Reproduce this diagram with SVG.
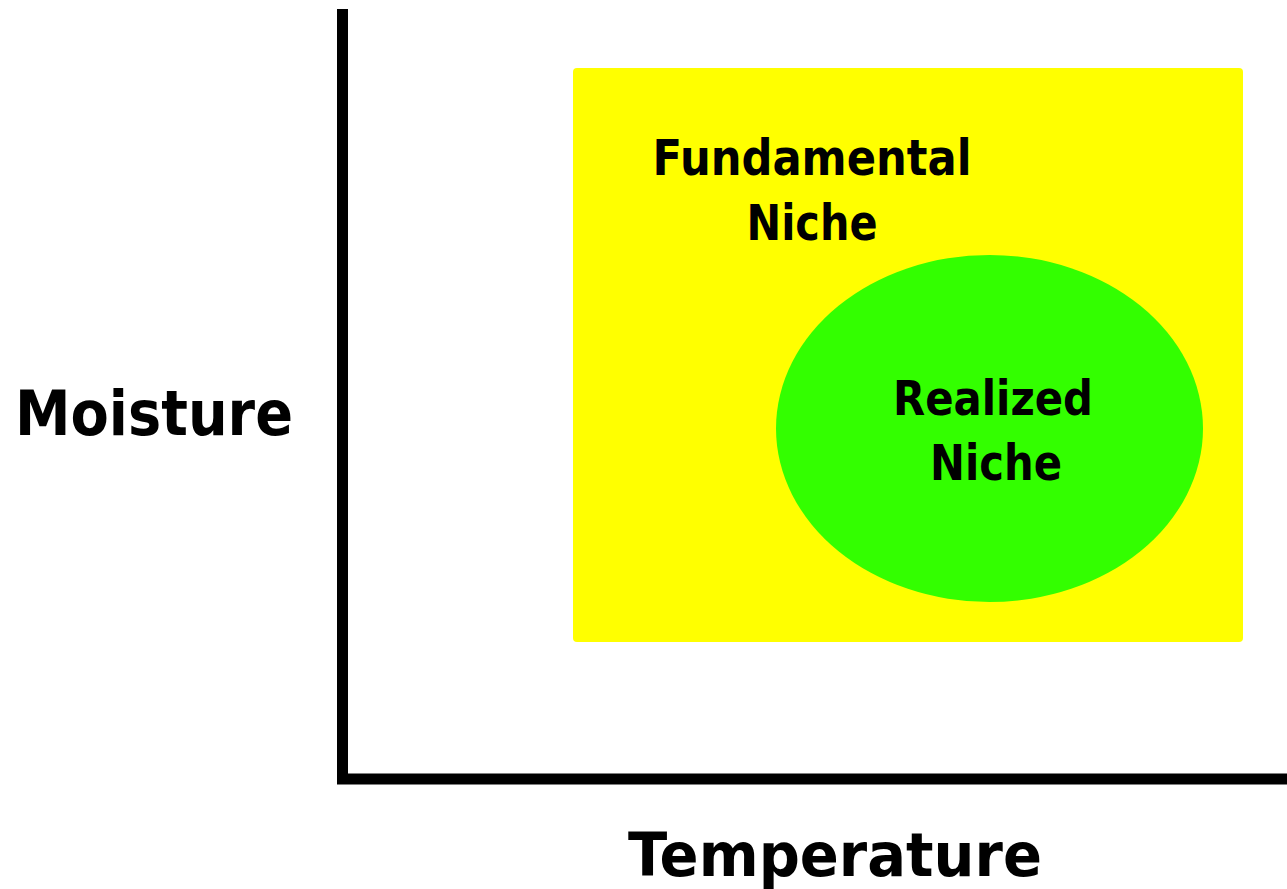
<svg xmlns="http://www.w3.org/2000/svg" width="1287" height="889" viewBox="0 0 1287 889">
<style>
.t{font-family:"DejaVu Sans","Liberation Sans",sans-serif;font-weight:bold;fill:#000;text-anchor:middle}
.ax{stroke:#000;stroke-width:11;fill:none;stroke-linecap:butt;stroke-linejoin:miter}
</style>
<rect width="1287" height="889" fill="#fff"/>
<g id="axes">
<path class="ax" d="M342.5,9 V779 H1287"/>
</g>
<g id="fundamental">
<rect x="573" y="68" width="670" height="574" rx="4" fill="#ffff00"/>
<text class="t" x="812" y="175" font-size="50" textLength="319" lengthAdjust="spacingAndGlyphs">Fundamental</text>
<text class="t" x="812" y="240" font-size="50" textLength="131" lengthAdjust="spacingAndGlyphs">Niche</text>
</g>
<g id="realized">
<ellipse cx="989.5" cy="428.5" rx="213.5" ry="173.5" fill="#33ff00"/>
<text class="t" x="993" y="415" font-size="48" textLength="200" lengthAdjust="spacingAndGlyphs">Realized</text>
<text class="t" x="996" y="480" font-size="50" textLength="132" lengthAdjust="spacingAndGlyphs">Niche</text>
</g>
<g id="ylabel">
<text class="t" x="154" y="435" font-size="63" textLength="278" lengthAdjust="spacingAndGlyphs">Moisture</text>
</g>
<g id="xlabel">
<text class="t" x="835" y="876" font-size="60" textLength="414" lengthAdjust="spacingAndGlyphs">Temperature</text>
</g>
</svg>
